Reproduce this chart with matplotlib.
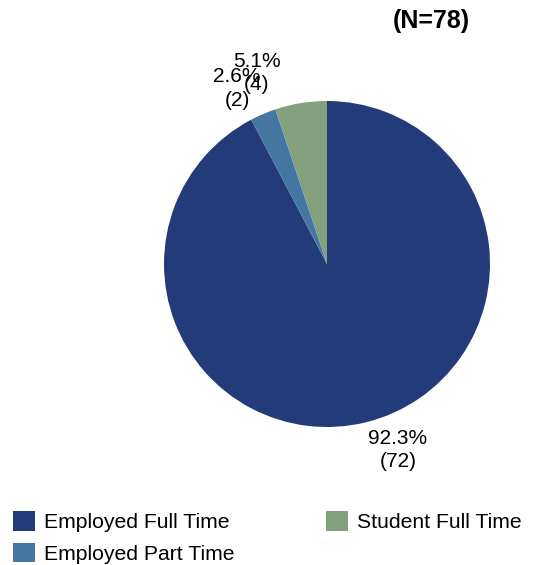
import numpy as np
import matplotlib
matplotlib.use("Agg")
import matplotlib.pyplot as plt

plt.rcParams['font.family'] = ['Liberation Sans', 'DejaVu Sans']

categories = ['Employed Full Time', 'Employed Part Time', 'Student Full Time']
counts = [72, 2, 4]
colors = ['#243b7a', '#4676a2', '#82a07e']
# nudges so the two small labels don't sit on top of each other
label_shift = [7, 4, 11]
label_dist = [1.22, 1.21, 1.25]

total = sum(counts)

fig = plt.figure(figsize=(5.41, 5.65), dpi=100)
ax = fig.add_axes([127/541, 1 - 464/565, 400/541, 400/565])

wedges, _ = ax.pie(counts, colors=colors, startangle=90, counterclock=False,
                   radius=1.0, wedgeprops=dict(linewidth=0))

lim = 200/163
ax.set_xlim(-lim, lim)
ax.set_ylim(-lim, lim)
ax.set_aspect('equal')
ax.axis('off')

for w, n, sh, d in zip(wedges, counts, label_shift, label_dist):
    mid = np.deg2rad((w.theta1 + w.theta2) / 2 + sh)
    ax.text(d*np.cos(mid), d*np.sin(mid), "%.1f%%\n(%d)" % (100*n/total, n),
            ha='center', va='center', fontsize=15, linespacing=1.3)

fig.text(431/541, 1 - 21/565, "(N=%d)" % total, ha='center', va='center',
         fontsize=18, fontweight='bold')

fig.legend(wedges, categories, loc='upper left', bbox_to_anchor=(13/541, 1 - 511/565),
           ncol=2, frameon=False, fontsize=15.2, borderpad=0, borderaxespad=0,
           handlelength=1.05, handleheight=1.05, handletextpad=0.4,
           labelspacing=0.5, columnspacing=4.35)

fig.savefig("out.png", dpi=100)
